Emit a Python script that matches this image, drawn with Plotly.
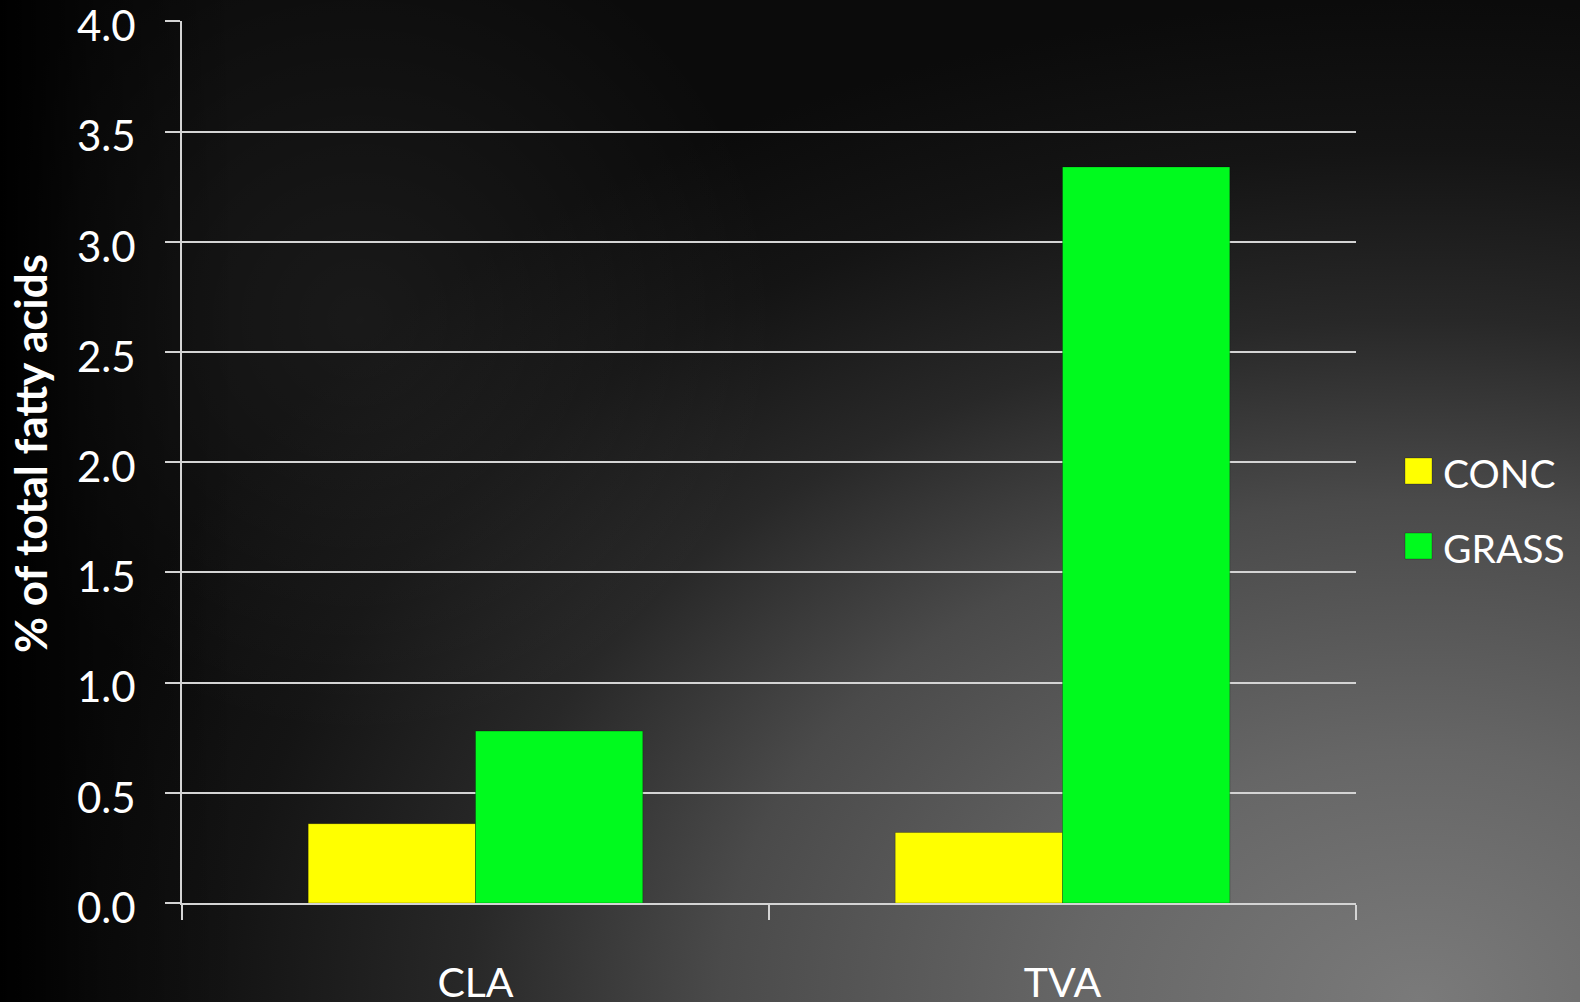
import base64
import plotly.graph_objects as go

categories = ["CLA", "TVA"]
series_names = ["CONC", "GRASS"]
conc_values = [0.36, 0.32]
grass_values = [0.78, 3.34]
series_colors = ["#ffff00", "#00fa1e"]
y_tick_vals = [0.0, 0.5, 1.0, 1.5, 2.0, 2.5, 3.0, 3.5, 4.0]
y_tick_text = ["0.0", "0.5", "1.0", "1.5", "2.0", "2.5", "3.0", "3.5", "4.0"]
y_title = "% of total fatty acids"

W, H = 1580, 1002
ML, MR, MT, MB = 182, 224, 21, 99
PW, PH = W - ML - MR, H - MT - MB
FONT = "Lato, Carlito, 'Open Sans', sans-serif"


def px_x(x):
    return (x - ML) / PW


def px_y(y):
    return (H - MB - y) / PH


svg = f"""<svg xmlns='http://www.w3.org/2000/svg' width='{W}' height='{H}' viewBox='0 0 {W} {H}'>
<defs>
<radialGradient id='g1' gradientUnits='userSpaceOnUse' cx='1420' cy='1000' r='1000'
 gradientTransform='translate(1420 1000) scale(1.4 1) translate(-1420 -1000)'>
<stop offset='0' stop-color='#7a7a7a'/>
<stop offset='0.25' stop-color='#666666'/>
<stop offset='0.5' stop-color='#4a4a4a'/>
<stop offset='0.68' stop-color='#282828'/>
<stop offset='0.85' stop-color='#141414'/>
<stop offset='1' stop-color='#0b0b0b'/>
</radialGradient>
<radialGradient id='g2' gradientUnits='userSpaceOnUse' cx='360' cy='320' r='420'>
<stop offset='0' stop-color='#ffffff' stop-opacity='0.06'/>
<stop offset='1' stop-color='#ffffff' stop-opacity='0'/>
</radialGradient>
<linearGradient id='g3' x1='0' y1='0' x2='1' y2='0'>
<stop offset='0' stop-color='#000000' stop-opacity='1'/>
<stop offset='0.06' stop-color='#000000' stop-opacity='0.4'/>
<stop offset='0.15' stop-color='#000000' stop-opacity='0'/>
</linearGradient>
</defs>
<rect width='{W}' height='{H}' fill='#0b0b0b'/>
<rect width='{W}' height='{H}' fill='url(#g1)'/>
<rect width='{W}' height='{H}' fill='url(#g2)'/>
<rect width='{W}' height='{H}' fill='url(#g3)'/>
</svg>"""
bg_src = "data:image/svg+xml;base64," + base64.b64encode(svg.encode()).decode()

fig = go.Figure()
for name, vals, col in zip(series_names, [conc_values, grass_values], series_colors):
    fig.add_trace(go.Bar(
        x=categories, y=vals, name=name,
        marker=dict(color=col, line=dict(color="rgba(0,0,0,0.25)", width=1)),
        showlegend=False,
    ))

grid_col = "#d4d4d4"
fig.update_layout(
    width=W, height=H,
    margin=dict(l=ML, r=MR, t=MT, b=MB, pad=0, autoexpand=False),
    paper_bgcolor="#000000",
    plot_bgcolor="rgba(0,0,0,0)",
    barmode="group", bargap=0.43, bargroupgap=0,
    font=dict(family=FONT, color="#ffffff", size=41),
    xaxis=dict(
        automargin=False,
        showgrid=False, showline=True, linecolor=grid_col, linewidth=2,
        ticks="outside", ticklen=15, tickwidth=2, tickcolor=grid_col,
        tickson="boundaries", ticklabelstandoff=43,
        tickfont=dict(family=FONT, size=41, color="#ffffff"),
    ),
    yaxis=dict(
        automargin=False,
        range=[0, 4.002], tickvals=y_tick_vals, ticktext=y_tick_text,
        showgrid=True, gridcolor=grid_col, gridwidth=2,
        zeroline=False, showline=True, linecolor=grid_col, linewidth=2,
        ticks="outside", ticklen=15, tickwidth=2, tickcolor=grid_col,
        ticklabelstandoff=21, ticklabelshift=5, ticklabeloverflow="allow",
        tickfont=dict(family=FONT, size=42, color="#ffffff"),
    ),
    images=[dict(
        source=bg_src, xref="paper", yref="paper",
        x=px_x(0), y=px_y(0), sizex=W / PW, sizey=H / PH,
        xanchor="left", yanchor="top", sizing="stretch", layer="below",
    )],
)

fig.add_annotation(
    text=f"<b>{y_title}</b>", textangle=-90,
    xref="paper", yref="paper", x=px_x(30), y=px_y(454),
    xanchor="center", yanchor="middle", showarrow=False,
    font=dict(family=FONT, size=44, color="#ffffff"),
)

legend_rows = [471, 546]
for name, col, cy in zip(series_names, series_colors, legend_rows):
    fig.add_shape(
        type="rect", xref="paper", yref="paper",
        x0=px_x(1405), x1=px_x(1432), y0=px_y(cy - 13), y1=px_y(cy + 13),
        fillcolor=col, line=dict(color="rgba(0,0,0,0.25)", width=1),
    )
    fig.add_annotation(
        text=name, xref="paper", yref="paper", x=px_x(1441), y=px_y(cy + 2),
        xanchor="left", yanchor="middle", showarrow=False,
        font=dict(family=FONT, size=39, color="#ffffff"),
    )

fig.write_html(
    "out.html",
    config={"displayModeBar": False},
    post_script="document.body.style.margin='0';document.body.style.overflow='hidden';",
)
